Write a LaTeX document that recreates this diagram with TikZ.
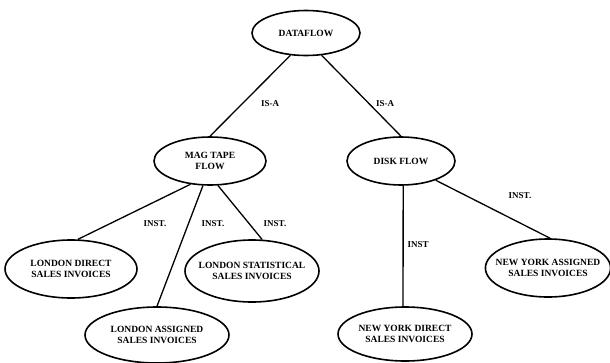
\documentclass[tikz,border=0pt]{standalone}
\usepackage{fontspec}
\setmainfont{Liberation Serif}
\usetikzlibrary{shapes.geometric}
\begin{document}
\begin{tikzpicture}[x=1pt,y=-1pt,
  concept/.style={ellipse,draw,line width=1.6pt,inner sep=0pt,align=center,
    font=\fontsize{9.5}{11}\selectfont\bfseries},
  tight/.style={inner xsep=-8pt},
  link/.style={line width=1.3pt},
  rel/.style={font=\fontsize{9}{10}\selectfont\bfseries,inner sep=1pt}]
\useasboundingbox (0,0) rectangle (610,362);
% hierarchy nodes
\node[concept,minimum width=108,minimum height=45] (df) at (306,33) {DATAFLOW};
\node[concept,minimum width=112,minimum height=48] (mag) at (210,161) {MAG TAPE\\FLOW};
\node[concept,minimum width=108,minimum height=48] (disk) at (401,161) {DISK FLOW};
\node[concept,minimum width=132,minimum height=58] (ld) at (71,269) {LONDON DIRECT\\SALES INVOICES};
\node[concept,tight,minimum width=134,minimum height=62] (ls) at (252,271) {LONDON STATISTICAL\\SALES INVOICES};
\node[concept,minimum width=144,minimum height=56] (la) at (157,335) {LONDON ASSIGNED\\SALES INVOICES};
\node[concept,minimum width=134,minimum height=54] (nyd) at (405,334) {NEW YORK DIRECT\\SALES INVOICES};
\node[concept,tight,minimum width=124,minimum height=58] (nya) at (548,268) {NEW YORK ASSIGNED\\SALES INVOICES};
% generalisation links
\draw[link] (df.235) -- (mag.90);
\draw[link] (df.305) -- (disk.90);
% instance links
\draw[link] (mag.230) -- (ld.77);
\draw[link] (mag.254) -- (la.90);
\draw[link] (mag.288) -- (ls.72);
\draw[link] (disk.275) -- (nyd.94);
\draw[link] (disk.331) -- (nya.86);
% link labels
\node[rel] (l1) at (270,104) {IS-A};
\node[rel] (l2) at (385,104) {IS-A};
\node[rel] (l3) at (155,224) {INST.};
\node[rel] (l4) at (213,224) {INST.};
\node[rel] (l5) at (275,224) {INST.};
\node[rel] (l6) at (418,245) {INST};
\node[rel] (l7) at (520,196) {INST.};
\end{tikzpicture}
\end{document}
